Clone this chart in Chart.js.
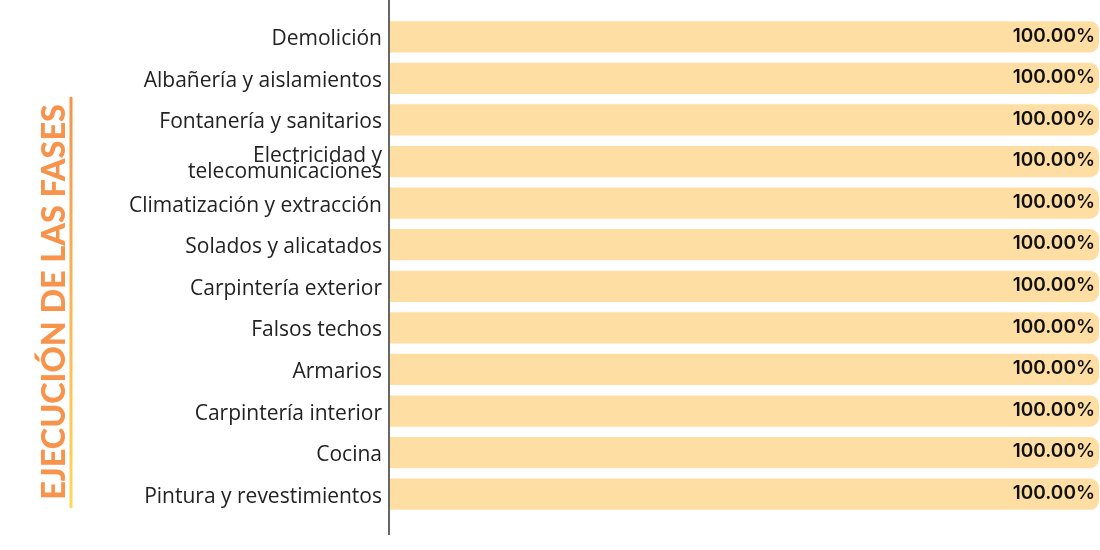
<!DOCTYPE html>
<html>
<head>
<meta charset="utf-8">
<script src="https://cdn.jsdelivr.net/npm/chart.js@4/dist/chart.umd.min.js"></script>
<style>
  html, body { margin: 0; padding: 0; background: #fff; }
  #wrap { width: 1100px; height: 550px; position: relative; }
</style>
</head>
<body>
<div id="wrap"><canvas id="myChart"></canvas></div>
<script>
const fases = [
  'Demolición', 'Albañería y aislamientos', 'Fontanería y sanitarios',
  ['Electricidad y', 'telecomunicaciones'], 'Climatización y extracción',
  'Solados y alicatados', 'Carpintería exterior', 'Falsos techos', 'Armarios',
  'Carpintería interior', 'Cocina', 'Pintura y revestimientos'
];
const avance = [100, 100, 100, 100, 100, 100, 100, 100, 100, 100, 100, 100];
const tituloEje = 'EJECUCIÓN DE LAS FASES';

// etiquetas de porcentaje al final de cada barra
const valueLabels = {
  id: 'valueLabels',
  afterDatasetsDraw(chart) {
    const ctx = chart.ctx;
    const meta = chart.getDatasetMeta(0);
    ctx.save();
    ctx.font = '600 19px Inter';
    ctx.fillStyle = '#111';
    ctx.textAlign = 'right';
    ctx.textBaseline = 'middle';
    meta.data.forEach((bar, i) => {
      ctx.fillText(avance[i].toFixed(2) + '%', bar.x - 4, bar.y - 1);
    });
    ctx.restore();
  }
};

// linea del eje y titulo vertical
const decor = {
  id: 'decor',
  afterDraw(chart) {
    const ctx = chart.ctx;
    const x0 = chart.chartArea.left;
    ctx.save();
    ctx.strokeStyle = '#666';
    ctx.lineWidth = 2;
    ctx.beginPath();
    ctx.moveTo(x0 - 1, 0);
    ctx.lineTo(x0 - 1, 535);
    ctx.stroke();

    const grad = ctx.createLinearGradient(0, 97, 0, 508);
    grad.addColorStop(0, '#F7924A');
    grad.addColorStop(1, '#FFD75A');
    ctx.strokeStyle = grad;
    ctx.lineWidth = 3;
    ctx.beginPath();
    ctx.moveTo(71, 97);
    ctx.lineTo(71, 508);
    ctx.stroke();

    ctx.translate(55, 302);
    ctx.rotate(-Math.PI / 2);
    let size = 30;
    ctx.font = '900 ' + size + 'px Lato';
    const w = ctx.measureText(tituloEje).width;
    size = size * 396 / w;
    ctx.font = '900 ' + size + 'px Lato';
    ctx.fillStyle = '#F7934B';
    ctx.textAlign = 'center';
    ctx.textBaseline = 'middle';
    ctx.fillText(tituloEje, 0, 0);
    ctx.restore();
  }
};

new Chart(document.getElementById('myChart'), {
  type: 'bar',
  data: {
    labels: fases,
    datasets: [{
      data: avance,
      backgroundColor: 'rgb(255, 222, 164)',
      borderRadius: 9,
      borderSkipped: 'start',
      barPercentage: 0.75,
      categoryPercentage: 1
    }]
  },
  options: {
    indexAxis: 'y',
    responsive: true,
    maintainAspectRatio: false,
    animation: false,
    layout: { padding: { top: 16, bottom: 35, right: 1, left: 0 } },
    plugins: {
      legend: { display: false },
      tooltip: { enabled: false }
    },
    scales: {
      x: {
        display: false,
        min: 0,
        max: 100
      },
      y: {
        afterFit(scale) { scale.width = 390; },
        grid: { display: false },
        border: { display: false },
        ticks: {
          color: '#222',
          padding: 0,
          labelOffset: 2.5,
          font: { family: 'Open Sans', size: 21, lineHeight: 0.8 }
        }
      }
    }
  },
  plugins: [valueLabels, decor]
});
</script>
</body>
</html>
